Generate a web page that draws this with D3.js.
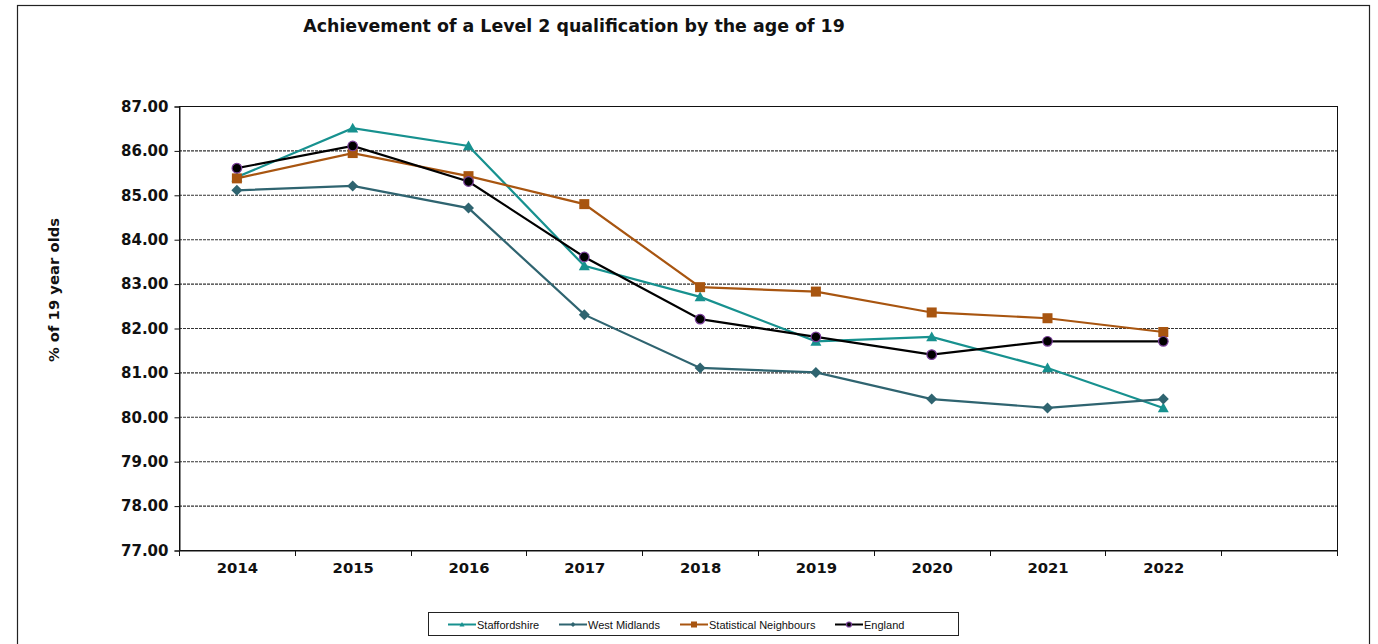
<!DOCTYPE html>
<html><head><meta charset="utf-8">
<script src="https://cdn.jsdelivr.net/npm/d3@7"></script>
<style>body{margin:0;background:#fff}svg{display:block}</style>
</head><body>
<script>
const years = ["2014","2015","2016","2017","2018","2019","2020","2021","2022",""];
const staffordshire = [85.4,86.5,86.1,83.4,82.7,81.7,81.8,81.1,80.2];
const westMidlands = [85.1,85.2,84.7,82.3,81.1,81.0,80.4,80.2,80.4];
const statNeighbours = [85.37,85.94,85.42,84.79,82.92,82.82,82.35,82.22,81.91];
const england = [85.6,86.1,85.3,83.6,82.2,81.8,81.4,81.7,81.7];
const yTicks = [77,78,79,80,81,82,83,84,85,86,87];
const seriesNames = ["Staffordshire","West Midlands","Statistical Neighbours","England"];

const series = [
  {name:seriesNames[0], values:staffordshire, color:"#17918f", marker:"triangle", mstroke:"#17918f"},
  {name:seriesNames[1], values:westMidlands, color:"#2f6470", marker:"diamond", mstroke:"#2f6470"},
  {name:seriesNames[2], values:statNeighbours, color:"#a85510", marker:"square", mstroke:"#a85510"},
  {name:seriesNames[3], values:england, color:"#000000", marker:"circle", mstroke:"#7a3f9a"}
];

const W=1378,H=644;
const svg=d3.select("body").append("svg").attr("width",W).attr("height",H);
svg.append("rect").attr("x",17.5).attr("y",5.5).attr("width",1352).attr("height",660)
  .attr("fill","#fff").attr("stroke","#222").attr("stroke-width",1.2);

const L=179,R=1337,T=106,B=550;
const x=d3.scaleBand().domain(years).range([L,R]);
const y=d3.scaleLinear().domain([77,87]).range([B,T]);

svg.append("text").attr("x",574).attr("y",32).attr("text-anchor","middle")
  .attr("font-family","DejaVu Sans, Verdana, sans-serif").attr("font-weight","bold").attr("font-size",17.4)
  .attr("fill","#111").text("Achievement of a Level 2 qualification by the age of 19");

// gridlines
svg.append("g").selectAll("line").data(yTicks.slice(1,-1)).join("line")
  .attr("x1",L).attr("x2",R).attr("y1",d=>y(d)+0.5).attr("y2",d=>y(d)+0.5)
  .attr("stroke","#333").attr("stroke-width",1.1).attr("stroke-dasharray","3,1");

// plot border
svg.append("rect").attr("x",L+0.5).attr("y",T+0.5).attr("width",R-L).attr("height",B-T)
  .attr("fill","none").attr("stroke","#111").attr("stroke-width",1);

// y axis
const ya=svg.append("g").attr("transform",`translate(${L+0.5},0.5)`)
  .call(d3.axisLeft(y).tickValues(yTicks).tickFormat(d3.format(".2f")).tickSize(5).tickPadding(6));
ya.select(".domain").attr("stroke","#111");
ya.selectAll("line").attr("stroke","#111");
ya.selectAll("text").attr("font-family","DejaVu Sans, Verdana, sans-serif").attr("font-weight","bold")
  .attr("font-size",15).attr("fill","#111");

// x axis
const xa=svg.append("g").attr("transform",`translate(0.5,${B+0.5})`)
  .call(d3.axisBottom(x).tickSize(0).tickPadding(12));
xa.select(".domain").attr("stroke","#111");
xa.selectAll("text").attr("font-family","DejaVu Sans, Verdana, sans-serif").attr("font-weight","bold")
  .attr("font-size",14.8).attr("fill","#111");
const bounds=years.map(d=>x(d)).concat([R]);
svg.append("g").selectAll("line").data(bounds).join("line")
  .attr("x1",d=>Math.round(d)+0.5).attr("x2",d=>Math.round(d)+0.5).attr("y1",B).attr("y2",B+6)
  .attr("stroke","#111");

svg.append("text").attr("transform",`translate(59,290) rotate(-90)`).attr("text-anchor","middle")
  .attr("font-family","DejaVu Sans, Verdana, sans-serif").attr("font-weight","bold").attr("font-size",14.8)
  .attr("fill","#111").text("% of 19 year olds");

function marker(g,type,cx,cy,s,fill,stroke){
  if(type==="triangle") g.append("path").attr("d",`M${cx},${cy-s}L${cx+s},${cy+s*0.8}L${cx-s},${cy+s*0.8}Z`).attr("fill",fill);
  else if(type==="diamond") g.append("path").attr("d",`M${cx},${cy-s}L${cx+s},${cy}L${cx},${cy+s}L${cx-s},${cy}Z`).attr("fill",fill);
  else if(type==="square") g.append("rect").attr("x",cx-s).attr("y",cy-s).attr("width",2*s).attr("height",2*s).attr("fill",fill);
  else g.append("circle").attr("cx",cx).attr("cy",cy).attr("r",s).attr("fill",fill).attr("stroke",stroke).attr("stroke-width",1.2);
}

const line=d3.line().x((d,i)=>x(years[i])+x.bandwidth()/2).y(d=>y(d));
series.forEach(s=>{
  const g=svg.append("g");
  g.append("path").attr("d",line(s.values)).attr("fill","none").attr("stroke",s.color).attr("stroke-width",2.2);
  s.values.forEach((v,i)=>{
    const size = s.marker==="square"?5:(s.marker==="circle"?4.8:5.5);
    marker(g,s.marker,x(years[i])+x.bandwidth()/2,y(v),size,s.color,s.mstroke);
  });
});

// legend
const lg=svg.append("g");
lg.append("rect").attr("x",428.5).attr("y",612.5).attr("width",530).attr("height",23)
  .attr("fill","#fff").attr("stroke","#222").attr("stroke-width",1);
const lx=[448,559,680,835];
series.forEach((s,i)=>{
  const g=lg.append("g");
  g.append("line").attr("x1",lx[i]).attr("x2",lx[i]+28).attr("y1",624.5).attr("y2",624.5).attr("stroke",s.color).attr("stroke-width",2);
  marker(g,s.marker,lx[i]+14,624.5,s.marker==="square"?3:2.5,s.color,s.mstroke);
  g.append("text").attr("x",lx[i]+29).attr("y",628.5).attr("font-family","Liberation Sans, Arial, sans-serif")
    .attr("font-size",11).attr("fill","#111").text(s.name);
});
</script>
</body></html>
